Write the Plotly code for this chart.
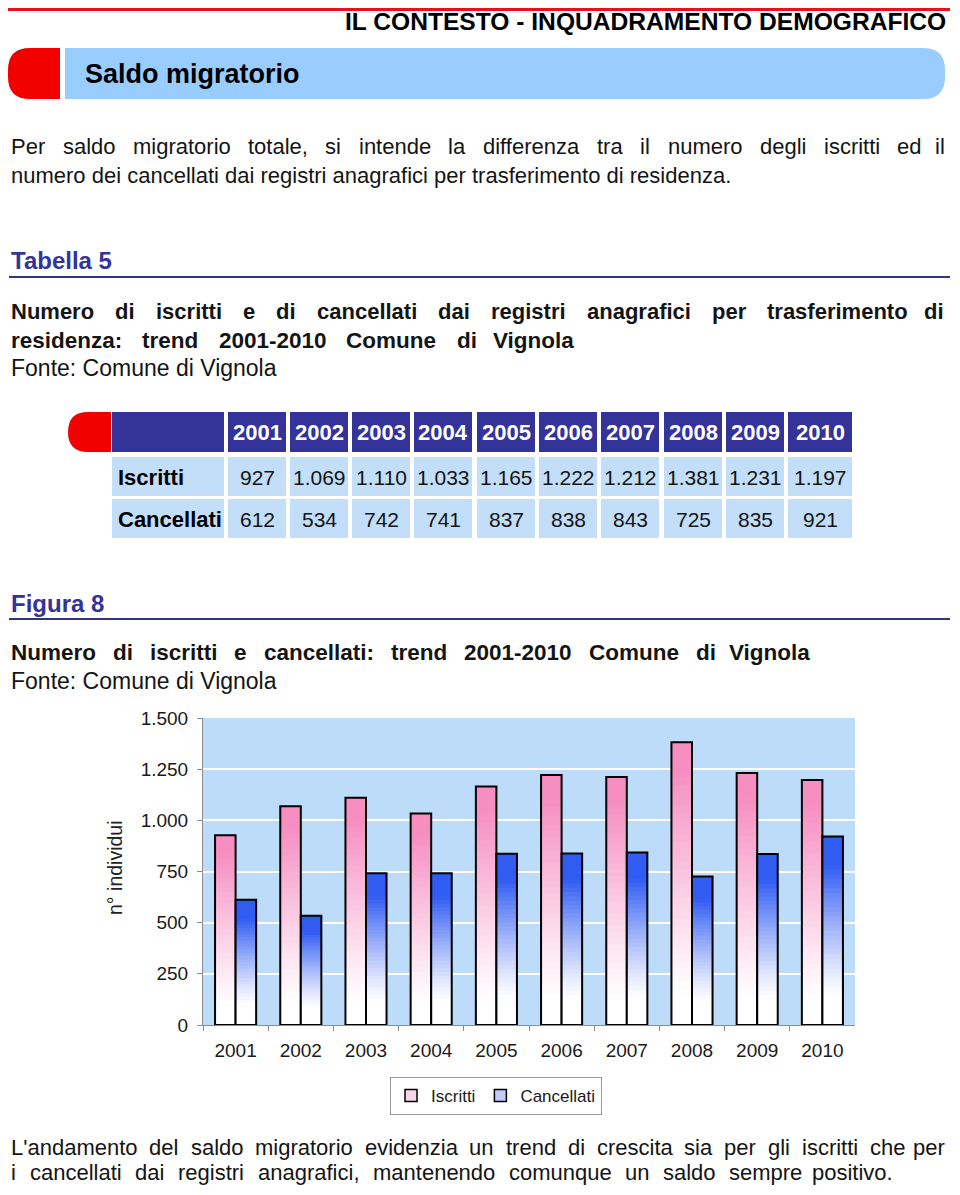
import plotly.graph_objects as go

# ---------------- data ----------------
years = ["2001", "2002", "2003", "2004", "2005", "2006", "2007", "2008", "2009", "2010"]
iscritti = [927, 1069, 1110, 1033, 1165, 1222, 1212, 1381, 1231, 1197]
cancellati = [612, 534, 742, 741, 837, 838, 843, 725, 835, 921]
row_labels = ["Iscritti", "Cancellati"]
y_tick_values = [0, 250, 500, 750, 1000, 1250, 1500]

# page is rendered inside the default 8px body margin -> work in page pixels
OX, OY = 8, 8
FW, FH = 944, 1179
FONT = "Liberation Sans, Arial, Helvetica, sans-serif"
TXT = "#141414"


def px(x):
    return (x - OX) / FW


def py(y):
    return 1 - (y - OY) / FH


def it_num(v):
    return f"{v:,}".replace(",", ".")


# Arial / Liberation Sans advance widths (1/1000 em)
_REG = dict(zip("abcdefghijklmnopqrstuvwxyz",
                [556, 556, 500, 556, 556, 278, 556, 556, 222, 222, 500, 222, 833, 556, 556,
                 556, 556, 333, 500, 278, 556, 500, 722, 500, 500, 500]))
_BLD = dict(zip("abcdefghijklmnopqrstuvwxyz",
                [556, 611, 556, 611, 556, 333, 611, 611, 278, 278, 556, 278, 889, 611, 611,
                 611, 611, 389, 556, 333, 611, 556, 778, 556, 556, 500]))
_UP = dict(zip("ABCDEFGHIJKLMNOPQRSTUVWXYZ",
               [667, 667, 722, 722, 667, 611, 778, 722, 278, 500, 667, 556, 833, 722, 778,
                667, 778, 722, 667, 611, 722, 667, 944, 667, 667, 611]))
_PUN = {" ": 278, ",": 278, ".": 278, ":": 278, "-": 333, "'": 191}


def tw(s, size, bold=False):
    tot = 0
    for ch in s:
        if ch.isdigit():
            tot += 556
        elif ch in _UP:
            tot += 722 if (bold and ch in "ABCN") else _UP[ch]
        elif ch in _PUN:
            tot += 333 if (bold and ch == ":") else _PUN[ch]
        else:
            tot += (_BLD if bold else _REG).get(ch, 556)
    return tot * size / 1000.0


fig = go.Figure()

# ---------------- gradient bars (built from the data) ----------------
N = 40


def grad_color(top, t, lo, hi, gamma):
    m = min(max((t - lo) / (hi - lo), 0.0), 1.0) ** gamma
    r, g, b = (round(255 + (c - 255) * m) for c in top)
    return f"rgb({r},{g},{b})"


series = [
    ("Iscritti", iscritti, (246, 142, 194), 0.10, 0.90, 1.1, "#F9D3E6"),
    ("Cancellati", cancellati, (48, 92, 242), 0.15, 0.85, 1.2, "#C3CBF6"),
]
for name, vals, top, lo, hi, gm, legc in series:
    for k in range(N - 1, -1, -1):
        frac = (k + 1) / N
        t = (k + 0.5) / N
        fig.add_trace(go.Bar(
            x=years, y=[v * frac for v in vals], offsetgroup=name, alignmentgroup="a",
            marker=dict(color=grad_color(top, t, lo, hi, gm), line=dict(width=0)),
            showlegend=False, hoverinfo="skip"))
    fig.add_trace(go.Bar(
        x=years, y=vals, offsetgroup=name, alignmentgroup="a",
        marker=dict(color="rgba(0,0,0,0)", line=dict(color="black", width=2)),
        showlegend=False, hoverinfo="skip"))
    fig.add_trace(go.Bar(
        x=[years[0]], y=[0], name=name, offsetgroup=name, alignmentgroup="a",
        marker=dict(color=legc, line=dict(color="black", width=1.5)),
        showlegend=True, hoverinfo="skip"))

# ---------------- shapes ----------------
shapes = []


def P(x, y):
    return f"{px(x):.5f},{py(y):.5f}"


def rrect(x0, y0, x1, y1, rl, rr, color):
    d = (f"M{P(x0 + rl, y0)} L{P(x1 - rr, y0)} Q{P(x1, y0)} {P(x1, y0 + rr)} "
         f"L{P(x1, y1 - rr)} Q{P(x1, y1)} {P(x1 - rr, y1)} L{P(x0 + rl, y1)} "
         f"Q{P(x0, y1)} {P(x0, y1 - rl)} L{P(x0, y0 + rl)} Q{P(x0, y0)} {P(x0 + rl, y0)} Z")
    return dict(type="path", xref="paper", yref="paper", path=d, fillcolor=color,
                line=dict(width=0), layer="below")


def rect(x0, y0, x1, y1, color):
    return dict(type="rect", xref="paper", yref="paper", x0=px(x0), x1=px(x1),
                y0=py(y1), y1=py(y0), fillcolor=color, line=dict(width=0), layer="below")


def hline(x0, x1, y, color, w):
    return dict(type="line", xref="paper", yref="paper", x0=px(x0), x1=px(x1),
                y0=py(y), y1=py(y), line=dict(color=color, width=w), layer="below")


shapes.append(rect(8, 8, 950, 11, "#E8101A"))
shapes.append(rrect(8, 48, 60, 99, 22, 0, "#F20000"))
shapes.append(rrect(65, 48, 945, 99, 0, 22, "#99CCFF"))
shapes.append(hline(9, 950, 277, "#333380", 2))
shapes.append(hline(9, 950, 619, "#333380", 2))

# table geometry
col_x0 = [112, 228, 290, 352, 414, 477, 539, 601, 664, 726, 788]
col_x1 = [224, 286, 348, 410, 472, 535, 597, 659, 722, 784, 852]
row_y = [(412, 452), (457, 496), (499, 538)]
shapes.append(rrect(68, 412, 111, 452, 20, 0, "#F20000"))
for ci in range(11):
    shapes.append(rect(col_x0[ci], row_y[0][0], col_x1[ci], row_y[0][1], "#333399"))
    for ri in (1, 2):
        shapes.append(rect(col_x0[ci], row_y[ri][0], col_x1[ci], row_y[ri][1], "#C3DEF9"))

# ---------------- annotations ----------------
anns = []


def A(text, x, y, size, bold=False, color=TXT, anchor="left", angle=0):
    if bold:
        text = f"<b>{text}</b>"
    anns.append(dict(text=text, x=px(x), y=py(y), xref="paper", yref="paper",
                     xanchor=anchor, yanchor="middle", showarrow=False, textangle=angle,
                     font=dict(family=FONT, size=size, color=color)))


def justify(line, x0, x1, y, size, bold=False, color=TXT):
    ws = line.split(" ")
    widths = [tw(w, size, bold) for w in ws]
    gap = (x1 - x0 - sum(widths)) / (len(ws) - 1)
    x = x0
    for i, (w, wd) in enumerate(zip(ws, widths)):
        if i == len(ws) - 1:
            A(w, x1, y, size, bold, color, "right")
        else:
            A(w, x, y, size, bold, color)
        x += wd + gap


A("IL CONTESTO - INQUADRAMENTO DEMOGRAFICO", 948, 22, 24.6, True, "#000000", "right")
A("Saldo migratorio", 83, 74, 27, True, "#000000")

justify("Per saldo migratorio totale, si intende la differenza tra il numero degli iscritti ed il",
        9, 947, 146, 22)
A("numero dei cancellati dai registri anagrafici per trasferimento di residenza.", 9, 175, 22)

A("Tabella 5", 9, 260, 24, True, "#333399")
justify("Numero di iscritti e di cancellati dai registri anagrafici per trasferimento di",
        9, 946, 311, 22, True)
justify("residenza: trend 2001-2010 Comune di Vignola", 9, 576, 340, 22.5, True)
A("Fonte: Comune di Vignola", 9, 368, 23)

# table text
for ci, yr in enumerate(years):
    cx = (col_x0[ci + 1] + col_x1[ci + 1]) / 2
    A(yr, cx, 432, 22, True, "#FFFFFF", "center")
    A(it_num(iscritti[ci]), cx, 477, 21, False, TXT, "center")
    A(it_num(cancellati[ci]), cx, 519, 21, False, TXT, "center")
A(row_labels[0], 116, 477, 22, True, "#000000")
A(row_labels[1], 116, 519, 22, True, "#000000")

A("Figura 8", 9, 603, 24, True, "#333399")
justify("Numero di iscritti e cancellati: trend 2001-2010 Comune di Vignola",
        9, 812, 652, 22.5, True)
A("Fonte: Comune di Vignola", 9, 681, 23)

A("n° individui", 115, 868, 19.5, False, "#222222", "center", -90)

justify("L'andamento del saldo migratorio evidenzia un trend di crescita sia per gli iscritti che per",
        9, 947, 1147, 22)
justify("i cancellati dai registri anagrafici, mantenendo comunque un saldo sempre positivo.",
        9, 895, 1172, 22)

# ---------------- layout ----------------
fig.update_layout(
    width=FW, height=FH, margin=dict(l=0, r=0, t=0, b=0, pad=0, autoexpand=False),
    paper_bgcolor="white", plot_bgcolor="#BDDCF9",
    barmode="group", bargap=0.37, bargroupgap=0, separators=",.",
    font=dict(family=FONT, color=TXT),
    hovermode=False, showlegend=True,
    legend=dict(orientation="h", x=px(496), xanchor="center", y=py(1077), yanchor="top",
                bordercolor="#9a9a9a", borderwidth=1, bgcolor="white",
                font=dict(size=17, color="#1a1a1a", family=FONT), itemwidth=30,
                traceorder="normal"),
    xaxis=dict(type="category", domain=[px(203), px(855)], showline=True, automargin=False,
               linecolor="#8c8c8c", linewidth=1, ticks="outside", ticklen=5,
               tickcolor="#8c8c8c", tickson="boundaries", showgrid=False,
               tickfont=dict(size=19, color="#1a1a1a", family=FONT),
               ticklabelstandoff=8, fixedrange=True),
    yaxis=dict(domain=[py(1025), py(718)], range=[0, 1500], tickvals=y_tick_values,
               tickformat=",d", showline=True, linecolor="#8c8c8c", linewidth=1,
               automargin=False,
               ticks="outside", ticklen=5, tickcolor="#8c8c8c", gridcolor="white",
               gridwidth=2, zeroline=False, ticklabelstandoff=5,
               tickfont=dict(size=19, color="#1a1a1a", family=FONT), fixedrange=True),
    shapes=shapes, annotations=anns,
)

fig.write_html("out.html", config={"displayModeBar": False})
